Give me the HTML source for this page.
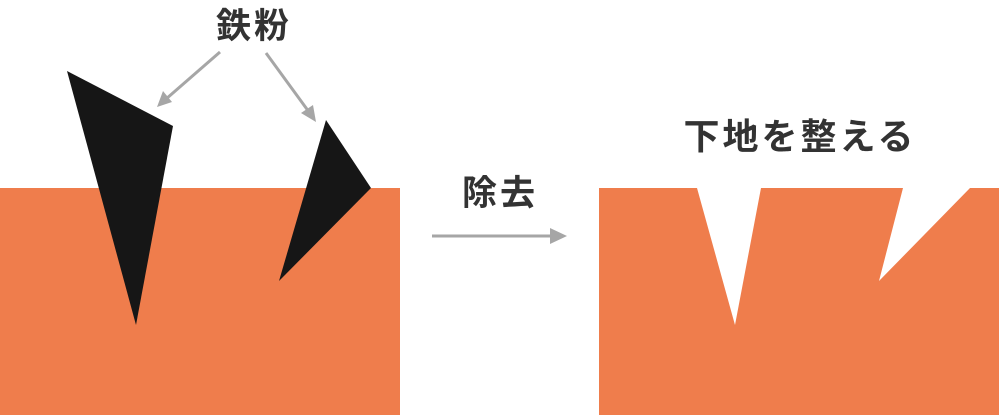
<!DOCTYPE html>
<html><head><meta charset="utf-8"><style>
html,body{margin:0;padding:0;background:#fff;width:1000px;height:418px;overflow:hidden}
svg{display:block}
text{font-family:"Liberation Sans","Noto Sans CJK JP",sans-serif;font-weight:bold;fill:#333}
</style></head><body>
<svg width="1000" height="418" viewBox="0 0 1000 418">
<rect x="0" y="188" width="400" height="227" fill="#ef7d4c"/>
<polygon points="67,71 173,126 136,325" fill="#161616"/>
<polygon points="326,120 371,188 279,281" fill="#161616"/>
<g stroke="#a6a6a6" stroke-width="3" fill="#a6a6a6">
<line x1="220" y1="52" x2="166" y2="99"/>
<polygon points="157,107 163,91 172,102" stroke="none"/>
<line x1="266" y1="53" x2="309" y2="112"/>
<polygon points="316,122 301,113 313,105" stroke="none"/>
<line x1="432" y1="236" x2="552" y2="236"/>
<polygon points="567,236 550,228 550,244" stroke="none"/>
</g>
<text x="254" y="38" font-size="35" text-anchor="middle" letter-spacing="3">鉄粉</text>
<text x="500" y="205" font-size="35" text-anchor="middle" letter-spacing="3">除去</text>
<text x="800" y="149" font-size="36" text-anchor="middle" letter-spacing="3">下地を整える</text>
<polygon points="599,188 697,188 735,325 761,188 903,188 879,281 970,188 999,188 999,415 599,415" fill="#ef7d4c"/>
</svg>
</body></html>
